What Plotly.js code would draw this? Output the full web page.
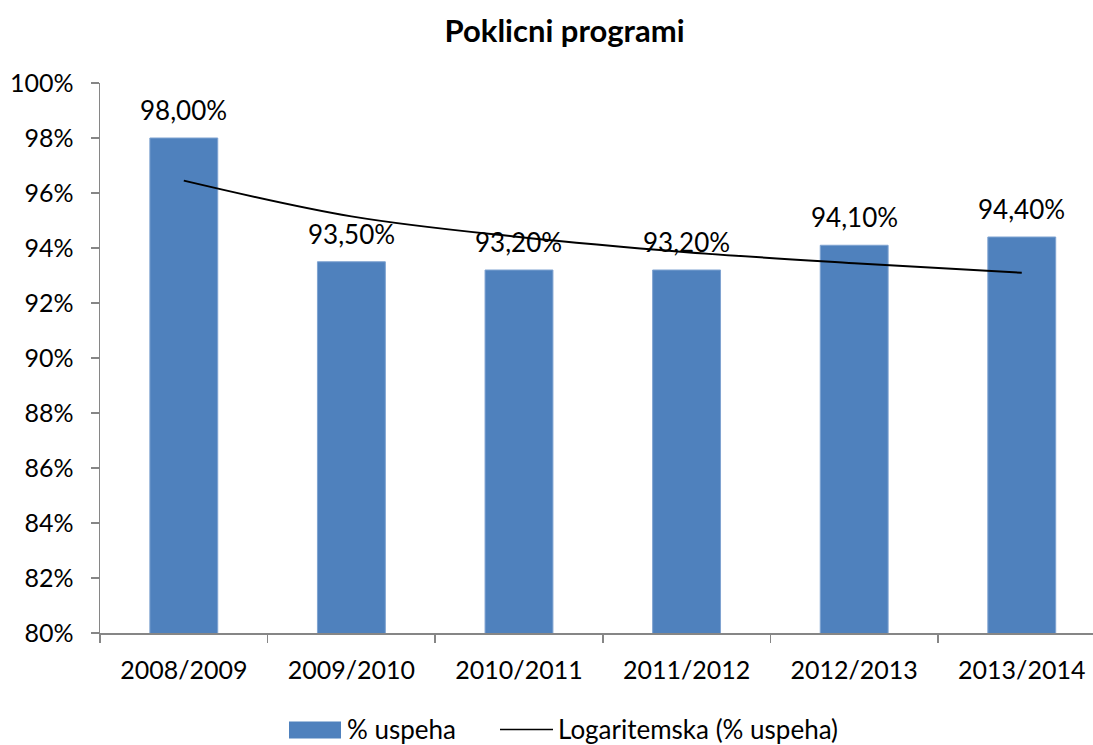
<!DOCTYPE html>
<html>
<head>
<meta charset="utf-8">
<script src="https://cdn.plot.ly/plotly-3.0.1.min.js"></script>
<style>html,body{margin:0;padding:0;background:#fff;}#chart{width:1093px;height:745px;}</style>
</head>
<body>
<div id="chart"></div>
<script>
const categories = ["2008/2009", "2009/2010", "2010/2011", "2011/2012", "2012/2013", "2013/2014"];
const uspeh = [98.0, 93.5, 93.2, 93.2, 94.1, 94.4];
const trend = [96.45, 95.15, 94.40, 93.85, 93.45, 93.10];
const labels = ["98,00%", "93,50%", "93,20%", "93,20%", "94,10%", "94,40%"];
const yTicks = [80, 82, 84, 86, 88, 90, 92, 94, 96, 98, 100];
const seriesNames = ["% uspeha", "Logaritemska (% uspeha)"];

const FONT = "Lato, 'Open Sans', sans-serif";
const BLUE = "#4F81BD";

// plot-area geometry (pixels) used for legend placement
const M = { l: 100, r: 0, t: 83, b: 111.5 };
const W = 1093, H = 745;
const pw = W - M.l - M.r, ph = H - M.t - M.b;
const px = x => (x - M.l) / pw;
const py = y => (H - M.b - y) / ph;

const data = [
  {
    type: "bar",
    name: seriesNames[0],
    x: categories,
    y: uspeh,
    marker: { color: BLUE, line: { color: "#7FA3D1", width: 1 } },
    width: 0.405,
    showlegend: false
  },
  {
    type: "scatter",
    mode: "lines",
    name: seriesNames[1],
    x: categories,
    y: trend,
    line: { color: "#000000", width: 2, shape: "spline" },
    showlegend: false
  }
];

const annotations = categories.map((c, i) => ({
  x: c, y: uspeh[i], xref: "x", yref: "y",
  text: labels[i], showarrow: false,
  yanchor: "bottom", yshift: 10,
  font: { family: FONT, size: 26, color: "#000" }
}));

// custom legend
annotations.push(
  { xref: "paper", yref: "paper", x: px(345), y: py(730), xanchor: "left", yanchor: "middle",
    text: seriesNames[0], showarrow: false, font: { family: FONT, size: 26, color: "#000" } },
  { xref: "paper", yref: "paper", x: px(556), y: py(730), xanchor: "left", yanchor: "middle",
    text: seriesNames[1], showarrow: false, font: { family: FONT, size: 26, color: "#000" } }
);
const shapes = [
  { type: "rect", xref: "paper", yref: "paper", x0: px(289), x1: px(341), y0: py(739), y1: py(722),
    fillcolor: BLUE, line: { width: 0 } },
  { type: "line", xref: "paper", yref: "paper", x0: px(500), x1: px(553), y0: py(730), y1: py(730),
    line: { color: "#000", width: 1.5 } }
];

const layout = {
  width: W, height: H,
  paper_bgcolor: "#fff", plot_bgcolor: "#fff",
  margin: { l: M.l, r: M.r, t: M.t, b: M.b, pad: 0, autoexpand: false },
  font: { family: FONT, size: 25, color: "#000" },
  title: {
    text: "<b>Poklicni programi</b>",
    font: { family: FONT, size: 31, color: "#000" },
    x: 0.5165, xref: "container", xanchor: "center",
    y: 0.958, yref: "container", yanchor: "middle"
  },
  xaxis: {
    type: "category",
    range: [-0.5, 5.425],
    showline: true, linecolor: "#868686", linewidth: 1.5,
    ticks: "outside", ticklen: 8, tickcolor: "#868686", tickwidth: 1.5,
    tickson: "boundaries",
    ticklabelstandoff: 14,
    showgrid: false, zeroline: false,
    tickfont: { family: FONT, size: 25, color: "#000" },
    fixedrange: true
  },
  yaxis: {
    range: [80, 100],
    tickvals: yTicks,
    ticktext: yTicks.map(v => v + "%"),
    showline: true, linecolor: "#868686", linewidth: 1.5,
    ticks: "outside", ticklen: 8, tickcolor: "#868686", tickwidth: 1.5,
    ticklabelstandoff: 12,
    showgrid: false, zeroline: false,
    tickfont: { family: FONT, size: 25, color: "#000" },
    fixedrange: true
  },
  showlegend: false,
  annotations: annotations,
  shapes: shapes,
  bargap: 0.595
};

Plotly.newPlot("chart", data, layout, { displayModeBar: false, staticPlot: true });
</script>
</body>
</html>
